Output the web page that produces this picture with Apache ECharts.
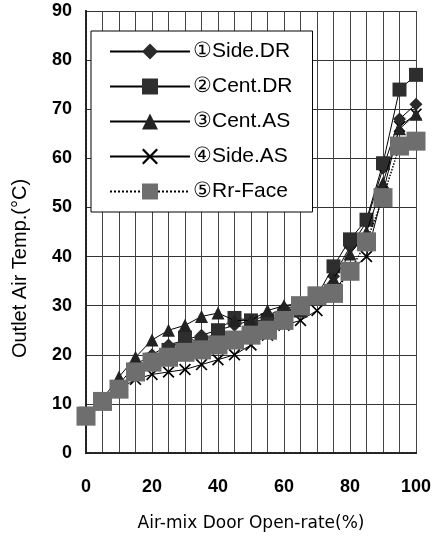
<!DOCTYPE html>
<html><head><meta charset="utf-8">
<script src="https://cdn.jsdelivr.net/npm/echarts@6/dist/echarts.min.js"></script>
<style>html,body{margin:0;padding:0;background:#fff}#c{width:435px;height:537px}</style>
</head><body><div id="c"></div>
<script>
const openRate = [0,5,10,15,20,25,30,35,40,45,50,55,60,65,70,75,80,85,90,95,100];
const sideDR  = [8,11,14,18,20,22,23,24,25,26,27,28,29.5,30,32,36,42,47,58,68,71];
const centDR  = [8,10.5,13,17,19,21,23.5,22.5,25,27.5,27,27,28,29,32,38,43.5,47.5,59,74,77];
const centAS  = [8,11,15.5,19.5,23,25,26,27.8,28.5,27,27,29,30,30.5,32,35.5,40.5,45,55,66,69];
const sideAS  = [8,11,13,15,16,16.5,17,18,19,20,22,24,26,27,29,33,37,40,53,66.5,69];
const rrFace  = [7.5,10.5,13,16.5,18.5,19.5,20.5,21,22,23,24,25,27,30,32,32.5,37,43,52,62.5,63.5];
const seriesNames = ['①Side.DR','②Cent.DR','③Cent.AS','④Side.AS','⑤Rr-Face'];
const xTicks = [0,20,40,60,80,100];
const yTicks = [0,10,20,30,40,50,60,70,80,90];
const xName = 'Air-mix Door Open-rate(%)';
const yName = 'Outlet Air Temp.(°C)';

const xPath='path://M0,1L1,0L5,4L9,0L10,1L6,5L10,9L9,10L5,6L1,10L0,9L4,5Z';
function pts(arr){return openRate.map((x,i)=>[x,arr[i]]);}
const chart = echarts.init(document.getElementById('c'));
const font = "'Liberation Sans', Arial, sans-serif";
const base = {type:'line', lineStyle:{color:'#000',width:1}, emphasis:{disabled:true}, animation:false};
chart.setOption({
  animation:false,
  grid:{left:86,right:19,top:11,bottom:83},
  legend:{
    orient:'vertical', left:91, top:31,
    backgroundColor:'#fff', borderColor:'#000', borderWidth:1,
    padding:[10,20,10,18], itemWidth:80, itemHeight:20, itemGap:14,
    textStyle:{fontFamily:font,fontSize:21,color:'#000',padding:[0,0,0,-2]},
    data:seriesNames
  },
  graphic:[{type:'text',left:10,top:'middle',x:0,
    style:{text:yName,fontFamily:font,fontSize:20,fill:'#000'},
    rotation:Math.PI/2, position:[10,362], silent:true}],
  xAxis:[{type:'value',min:0,max:100,interval:5,
    axisLine:{show:true,lineStyle:{color:'#222',width:2,type:'dotted'}},
    axisTick:{show:false},
    axisLabel:{margin:25,fontFamily:font,fontSize:18,fontWeight:'bold',color:'#000',
      formatter:v=>xTicks.indexOf(v)>=0?String(v):''},
    splitLine:{show:true,lineStyle:{color:'#444',width:1}},
    name:xName,nameLocation:'middle',nameGap:62,
    nameTextStyle:{fontFamily:"'DejaVu Sans', sans-serif",fontSize:17,color:'#000'}},
   {type:'value',min:0,max:100,position:'top',axisLine:{show:true,lineStyle:{color:'#222',width:2,type:'dotted'}},
    axisTick:{show:false},axisLabel:{show:false},splitLine:{show:false}}],
  yAxis:[{type:'value',min:0,max:90,interval:10,
    axisLine:{show:true,lineStyle:{color:'#222',width:2,type:'dotted'}},
    axisTick:{show:false},
    axisLabel:{margin:14,fontFamily:font,fontSize:18,fontWeight:'bold',color:'#000',
      formatter:v=>yTicks.indexOf(v)>=0?String(v):''},
    splitLine:{show:true,lineStyle:{color:'#333',width:1}}},
   {type:'value',min:0,max:90,position:'right',axisLine:{show:true,lineStyle:{color:'#222',width:2,type:'dotted'}},
    axisTick:{show:false},axisLabel:{show:false},splitLine:{show:false}}],
  series:[
    Object.assign({},base,{name:seriesNames[0],data:pts(sideDR),symbol:'diamond',symbolSize:13,itemStyle:{color:'#2a2a2a'},z:2}),
    Object.assign({},base,{name:seriesNames[1],data:pts(centDR),symbol:'rect',symbolSize:14,itemStyle:{color:'#2e2e2e'},z:3}),
    Object.assign({},base,{name:seriesNames[2],data:pts(centAS),symbol:'triangle',symbolSize:13,itemStyle:{color:'#222'},z:4}),
    Object.assign({},base,{name:seriesNames[3],data:pts(sideAS),symbol:xPath,symbolSize:12,itemStyle:{color:'#000'},z:1}),
    Object.assign({},base,{name:seriesNames[4],data:pts(rrFace),symbol:'rect',symbolSize:19,itemStyle:{color:'#6e6e6e'},
      lineStyle:{color:'#000',width:1.5,type:'dotted'},z:5})
  ]
});
</script></body></html>
